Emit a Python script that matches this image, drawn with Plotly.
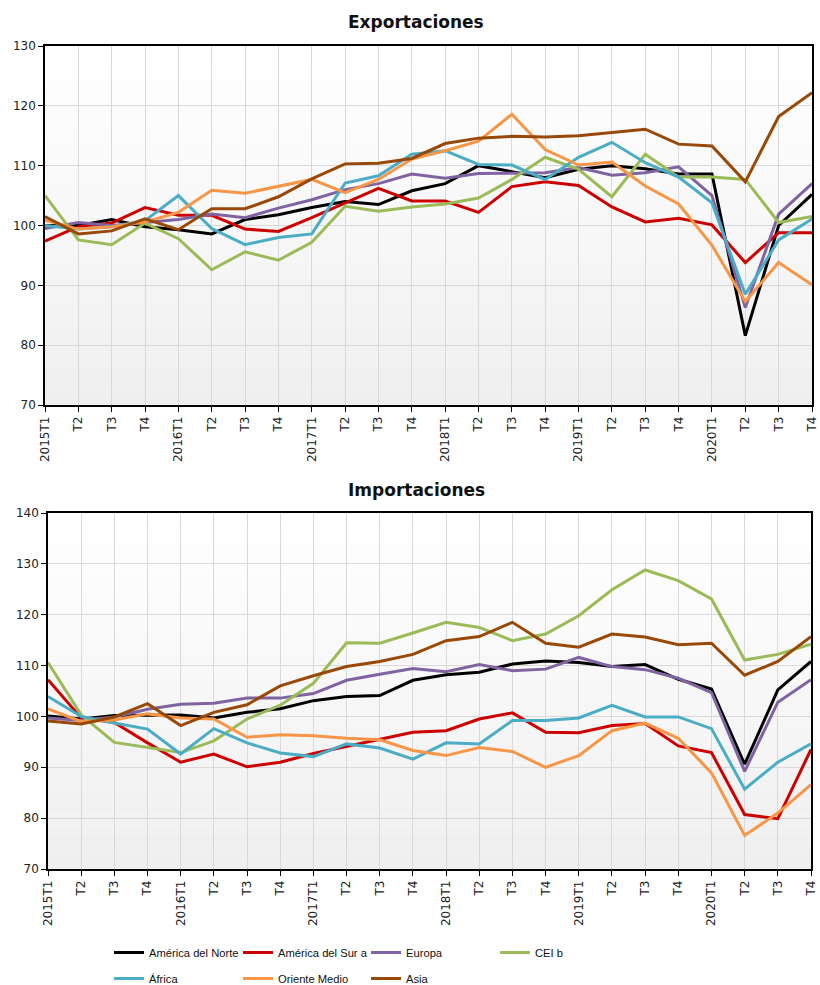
import plotly.graph_objects as go
from plotly.subplots import make_subplots

quarters = ["2015T1", "T2", "T3", "T4", "2016T1", "T2", "T3", "T4",
            "2017T1", "T2", "T3", "T4", "2018T1", "T2", "T3", "T4",
            "2019T1", "T2", "T3", "T4", "2020T1", "T2", "T3", "T4"]

series_names = ["América del Norte", "América del Sur a", "Europa", "CEI b",
                "África", "Oriente Medio", "Asia"]
series_colors = ["#000000", "#cc0000", "#8064a2", "#9bbb59",
                 "#4bacc6", "#f79646", "#984807"]

# Exportaciones
exp_norte = [100.0, 100.0, 101.0, 99.8, 99.3, 98.6, 101.0, 101.8, 103.0, 104.0, 103.5, 105.8,
             107.0, 110.0, 109.0, 108.0, 109.4, 110.0, 109.5, 108.6, 108.6, 81.6, 100.0, 105.2]
exp_sur = [97.4, 99.8, 100.4, 103.0, 101.7, 101.7, 99.4, 99.0, 101.3, 103.8, 106.2, 104.1,
           104.1, 102.2, 106.5, 107.3, 106.7, 103.1, 100.6, 101.2, 100.1, 93.8, 98.8, 98.8]
exp_europa = [99.5, 100.5, 100.0, 100.5, 101.0, 101.9, 101.3, 102.9, 104.3, 106.0, 107.0, 108.6,
              107.9, 108.7, 108.7, 108.8, 109.7, 108.4, 108.8, 109.8, 105.0, 86.3, 101.9, 107.0]
exp_cei = [105.0, 97.6, 96.8, 100.4, 97.8, 92.6, 95.6, 94.2, 97.2, 103.2, 102.4, 103.1,
           103.6, 104.6, 107.7, 111.4, 109.4, 104.8, 111.9, 108.1, 108.1, 107.7, 100.5, 101.5]
exp_africa = [100.0, 99.4, 99.8, 100.8, 105.0, 99.5, 96.8, 98.0, 98.6, 107.1, 108.3, 111.9,
              112.5, 110.2, 110.1, 107.7, 111.4, 113.9, 110.5, 108.1, 103.8, 88.5, 97.6, 101.1]
exp_oriente = [100.9, 99.4, 99.8, 100.6, 102.2, 105.9, 105.4, 106.6, 107.7, 105.5, 107.7, 111.1,
               112.5, 114.1, 118.6, 112.7, 110.1, 110.6, 106.6, 103.6, 96.7, 87.3, 93.8, 90.1]
exp_asia = [101.5, 98.6, 99.1, 101.1, 99.3, 102.8, 102.8, 104.8, 107.8, 110.3, 110.4, 111.2,
            113.7, 114.6, 114.9, 114.8, 115.0, 115.6, 116.1, 113.6, 113.3, 107.3, 118.2, 122.2]

# Importaciones
imp_norte = [100.1, 99.5, 100.2, 100.3, 100.3, 99.7, 100.8, 101.5, 103.1, 103.9, 104.1, 107.1,
             108.2, 108.7, 110.3, 110.9, 110.6, 109.8, 110.2, 107.3, 105.4, 90.6, 105.2, 110.8]
imp_sur = [107.2, 99.7, 98.8, 94.8, 91.0, 92.6, 90.1, 91.0, 92.7, 94.1, 95.5, 96.9,
           97.2, 99.5, 100.7, 96.9, 96.8, 98.2, 98.6, 94.2, 92.9, 80.7, 79.9, 93.5]
imp_europa = [99.7, 99.2, 99.9, 101.4, 102.4, 102.6, 103.6, 103.6, 104.5, 107.1, 108.3, 109.4,
              108.8, 110.2, 109.0, 109.3, 111.6, 109.8, 109.2, 107.5, 104.7, 89.2, 102.8, 107.2]
imp_cei = [110.6, 100.3, 94.9, 93.9, 92.9, 95.2, 99.5, 102.2, 106.5, 114.5, 114.4, 116.4,
           118.5, 117.5, 114.9, 116.2, 119.8, 124.9, 128.8, 126.7, 123.1, 111.1, 112.2, 114.2]
imp_africa = [103.9, 100.0, 98.7, 97.5, 92.6, 97.6, 94.8, 92.8, 92.1, 94.6, 93.8, 91.6,
              94.8, 94.6, 99.2, 99.2, 99.7, 102.2, 99.9, 99.9, 97.6, 85.7, 91.0, 94.6]
imp_oriente = [101.5, 99.0, 99.3, 100.5, 99.7, 99.5, 95.9, 96.4, 96.2, 95.7, 95.4, 93.3,
               92.3, 93.9, 93.1, 90.0, 92.3, 97.2, 98.7, 95.7, 88.9, 76.6, 81.0, 86.6]
imp_asia = [99.1, 98.5, 99.9, 102.5, 98.2, 100.8, 102.3, 106.0, 108.0, 109.8, 110.8, 112.2,
            114.9, 115.7, 118.5, 114.4, 113.6, 116.2, 115.6, 114.1, 114.4, 108.1, 110.8, 115.7]

exports = [exp_norte, exp_sur, exp_europa, exp_cei, exp_africa, exp_oriente, exp_asia]
imports = [imp_norte, imp_sur, imp_europa, imp_cei, imp_africa, imp_oriente, imp_asia]

x = list(range(len(quarters)))

W, H = 820, 985
L, R = 45, 2
pw = W - L - R


def px(sx):
    return (sx - L) / pw


def py(sy):
    return 1 - sy / H


# legend grid: 4 columns x 2 rows (screen px of line start / row top)
leg_cols = [116, 245, 373, 502]
leg_rows = [938, 964]
legend_names = ["legend"] + [f"legend{k}" for k in range(2, 8)]

fig = make_subplots(rows=2, cols=1)

for i, name in enumerate(series_names):
    fig.add_trace(go.Scatter(x=x, y=exports[i], mode="lines", name=name,
                             line=dict(color=series_colors[i], width=3),
                             legend=legend_names[i], showlegend=True), row=1, col=1)
for i, name in enumerate(series_names):
    fig.add_trace(go.Scatter(x=x, y=imports[i], mode="lines", name=name,
                             line=dict(color=series_colors[i], width=3),
                             showlegend=False), row=2, col=1)

# gradient-ish plot background via thin bands
n_bands = 40
shapes = []
for xr, yr in [("x domain", "y domain"), ("x2 domain", "y2 domain")]:
    for k in range(n_bands):
        t = k / (n_bands - 1)
        c = int(round(255 - t * 16))
        shapes.append(dict(type="rect", xref=xr, yref=yr, x0=0, x1=1,
                           y0=1 - (k + 1) / n_bands, y1=1 - k / n_bands,
                           fillcolor=f"rgb({c},{c},{c})", line_width=0, layer="below"))

axis_common = dict(showline=True, linecolor="black", linewidth=1.5, mirror=True,
                   ticks="outside", ticklen=5, tickcolor="black", automargin=False,
                   showgrid=True, gridcolor="#d9d9d9", gridwidth=1, zeroline=False,
                   ticklabeloverflow="allow",
                   tickfont=dict(family="DejaVu Sans", size=12, color="#222"))

fig.update_xaxes(**axis_common, range=[0, 23], tickvals=x, ticktext=quarters, tickangle=-90)
fig.update_yaxes(**axis_common, dtick=10)
fig.update_yaxes(range=[70, 130], row=1, col=1)
fig.update_yaxes(range=[70, 140], row=2, col=1)

legend_style = dict(orientation="h", xanchor="left", yanchor="top",
                    font=dict(family="Liberation Sans Narrow, Liberation Sans, sans-serif",
                              size=11.2, color="#111"),
                    bgcolor="rgba(0,0,0,0)")
legends = {}
for i, lname in enumerate(legend_names):
    legends[lname] = dict(**legend_style, x=px(leg_cols[i % 4] - 7), y=py(leg_rows[i // 4]))

fig.update_layout(
    width=W, height=H,
    margin=dict(l=L, r=R, t=0, b=0, autoexpand=False),
    paper_bgcolor="white",
    plot_bgcolor="white",
    shapes=shapes,
    xaxis=dict(domain=[px(45), px(812)]),
    yaxis=dict(domain=[py(405), py(46)]),
    xaxis2=dict(domain=[px(48), px(811)]),
    yaxis2=dict(domain=[py(869), py(513)]),
    annotations=[
        dict(text="<b>Exportaciones</b>", xref="paper", yref="paper",
             x=px(416), y=py(22), xanchor="center", yanchor="middle",
             showarrow=False, font=dict(family="DejaVu Sans", size=17, color="#111")),
        dict(text="<b>Importaciones</b>", xref="paper", yref="paper",
             x=px(416), y=py(490), xanchor="center", yanchor="middle",
             showarrow=False, font=dict(family="DejaVu Sans", size=17, color="#111")),
    ],
    **legends,
)

# drop the default page margin so the figure sits at the window's corner
fig.write_html("out.html", config={"displayModeBar": False},
               post_script="document.body.style.margin='0';document.body.style.overflow='hidden';")
